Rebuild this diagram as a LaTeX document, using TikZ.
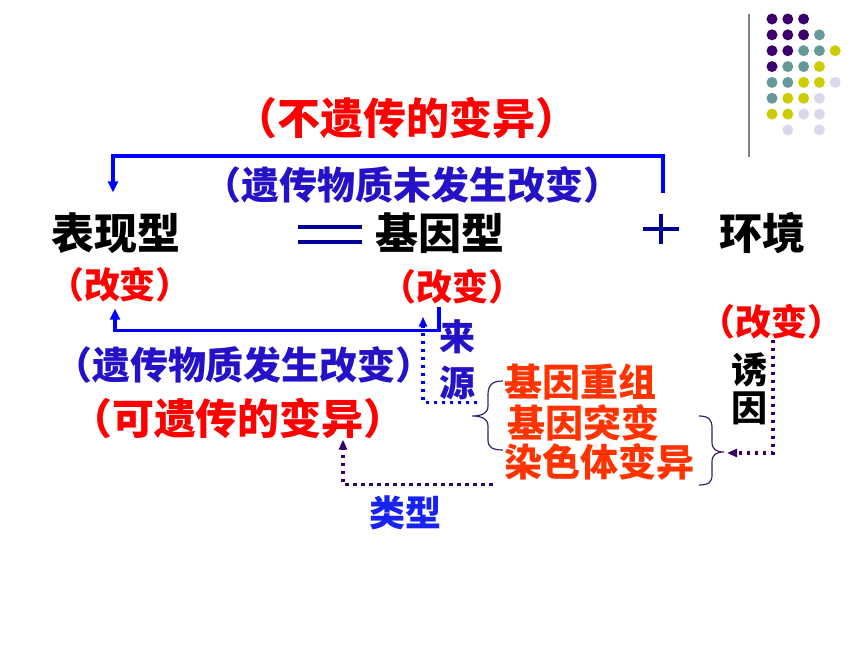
\documentclass[tikz,border=0pt]{standalone}
\usepackage{fontspec}
\newfontfamily\cjk{Noto Sans CJK SC}
\usetikzlibrary{arrows.meta}
\definecolor{bianred}{RGB}{255,0,0}
\definecolor{shenblue}{RGB}{36,18,200}
\definecolor{liangblue}{RGB}{25,35,240}
\definecolor{xianblue}{RGB}{0,0,255}
\definecolor{navy}{RGB}{0,0,153}
\definecolor{cheng}{RGB}{255,51,0}
\definecolor{xupurple}{RGB}{51,0,102}
\definecolor{kuopurple}{RGB}{60,30,110}
\definecolor{dp}{RGB}{60,0,110}
\definecolor{tq}{RGB}{102,153,153}
\definecolor{yl}{RGB}{204,204,0}
\definecolor{lv}{RGB}{217,217,236}
\begin{document}
\begin{tikzpicture}[x=1pt,y=-1pt,>={Triangle[length=11pt,width=10pt]},
    zi/.style={inner sep=0pt,font=\cjk\bfseries\fontsize{#1}{#1}\selectfont},
    shu/.style 2 args={inner sep=0pt,align=center,font=\cjk\bfseries\fontsize{#1}{#2}\selectfont},
    bline/.style={line width=3.5pt,color=xianblue},
    bdot/.style={line width=3.5pt,color=xianblue,dash pattern=on 3.5pt off 4.5pt,>={Triangle[length=10pt,width=8pt]}},
    pdot/.style={line width=3.5pt,color=xupurple,dash pattern=on 3.5pt off 4.5pt,>={Triangle[length=10pt,width=8pt]}},
    sym/.style={line width=4.5pt,color=navy},
    kuo/.style={line width=1.2pt,color=kuopurple}]
        \useasboundingbox (0,0) rectangle (860,645);
        % corner dots
        \draw [line width=2pt,color=gray](748.5,14)--(748.5,157);
        \foreach \c/\r/\col in {0/0/dp,1/0/dp,2/0/dp,0/1/dp,1/1/dp,2/1/dp,3/1/tq,
            0/2/dp,1/2/dp,2/2/tq,3/2/tq,4/2/yl,0/3/dp,1/3/tq,2/3/tq,3/3/yl,
            0/4/tq,1/4/tq,2/4/yl,3/4/yl,4/4/lv,0/5/tq,1/5/yl,2/5/yl,3/5/lv,
            0/6/yl,1/6/yl,2/6/lv,3/6/lv,1/7/lv,3/7/lv}
            \fill [\col](772+15.8*\c,19+15.85*\r) circle (5.5pt);
        % texts
        \node (buyi) at (406,118)[zi=43,color=bianred]{（不遗传的变异）};
        \node (weibian) at (412,185)[zi=38,color=shenblue]{（遗传物质未发生改变）};
        \node (bxx) at (116,233)[zi=43]{表现型};
        \node (jyx) at (440,233)[zi=43]{基因型};
        \node (hj) at (762,233)[zi=43]{环境};
        \coordinate (eq) at (330,234.5);
        \coordinate (plus) at (661,229);
        \node (gb1) at (120,285)[zi=36,color=bianred]{（改变）};
        \node (gb2) at (452,287)[zi=36,color=bianred]{（改变）};
        \node (gb3) at (771,322)[zi=36,color=bianred]{（改变）};
        \node (fasheng) at (244,365)[zi=38,color=shenblue]{（遗传物质发生改变）};
        \node (keyi) at (238,418)[zi=42,color=bianred]{（可遗传的变异）};
        \node (ly) at (457,360)[shu={36}{46},color=shenblue]{来\\源};
        \node (yy) at (749,389)[shu={36}{38}]{诱\\因};
        \node (cz) at (580,382)[zi=38,color=cheng]{基因重组};
        \node (tb) at (583,423)[zi=38,color=cheng]{基因突变};
        \node (rst) at (599,462)[zi=38,color=cheng]{染色体变异};
        \node (lx) at (405,513)[zi=36,color=liangblue]{类型};
        \coordinate (rtip) at (727,453);
        % = and +
        \draw [sym](eq) ++(-32,-7.5)--++(64,0) (eq) ++(-32,7.5)--++(64,0);
        \draw [sym](plus) ++(-18,0)--++(36,0) (plus) ++(0,-15)--++(0,30);
        % arrows
        \draw [bline,->](plus) ++(2,-36)--++(0,-37)-|([xshift=-3pt,yshift=20pt]bxx.north);
        \draw [bline,->]([xshift=-13pt,yshift=-2pt]gb2.south)--++(0,24)-|([xshift=-5pt,yshift=-6pt]gb1.south);
        \draw [bdot,->]([xshift=20pt,yshift=-2pt]ly.south)-|([xshift=-29pt,yshift=-12pt]gb2.south);
        \draw [pdot,->]([xshift=-11pt,yshift=-4pt]rst.south west)-|([xshift=105pt,yshift=-1pt]keyi.south);
        \draw [pdot,->]([xshift=2pt]gb3.south)|-(rtip);
        % braces
        \draw [kuo](503,381) .. controls (492,381) and (488,385) .. (488,395)--(488,406)
            .. controls (488,413) and (482,416) .. (472,416) .. controls (482,416) and (488,419) .. (488,426)
            --(488,440) .. controls (488,447) and (492,450) .. (503,450);
        \draw [kuo](699,416) .. controls (709,416) and (712,420) .. (712,428)--(712,442)
            .. controls (712,449) and (716,452) .. (724,452) .. controls (716,452) and (712,455) .. (712,462)
            --(712,475) .. controls (712,482) and (709,485) .. (699,485);
    \end{tikzpicture}
\end{document}
